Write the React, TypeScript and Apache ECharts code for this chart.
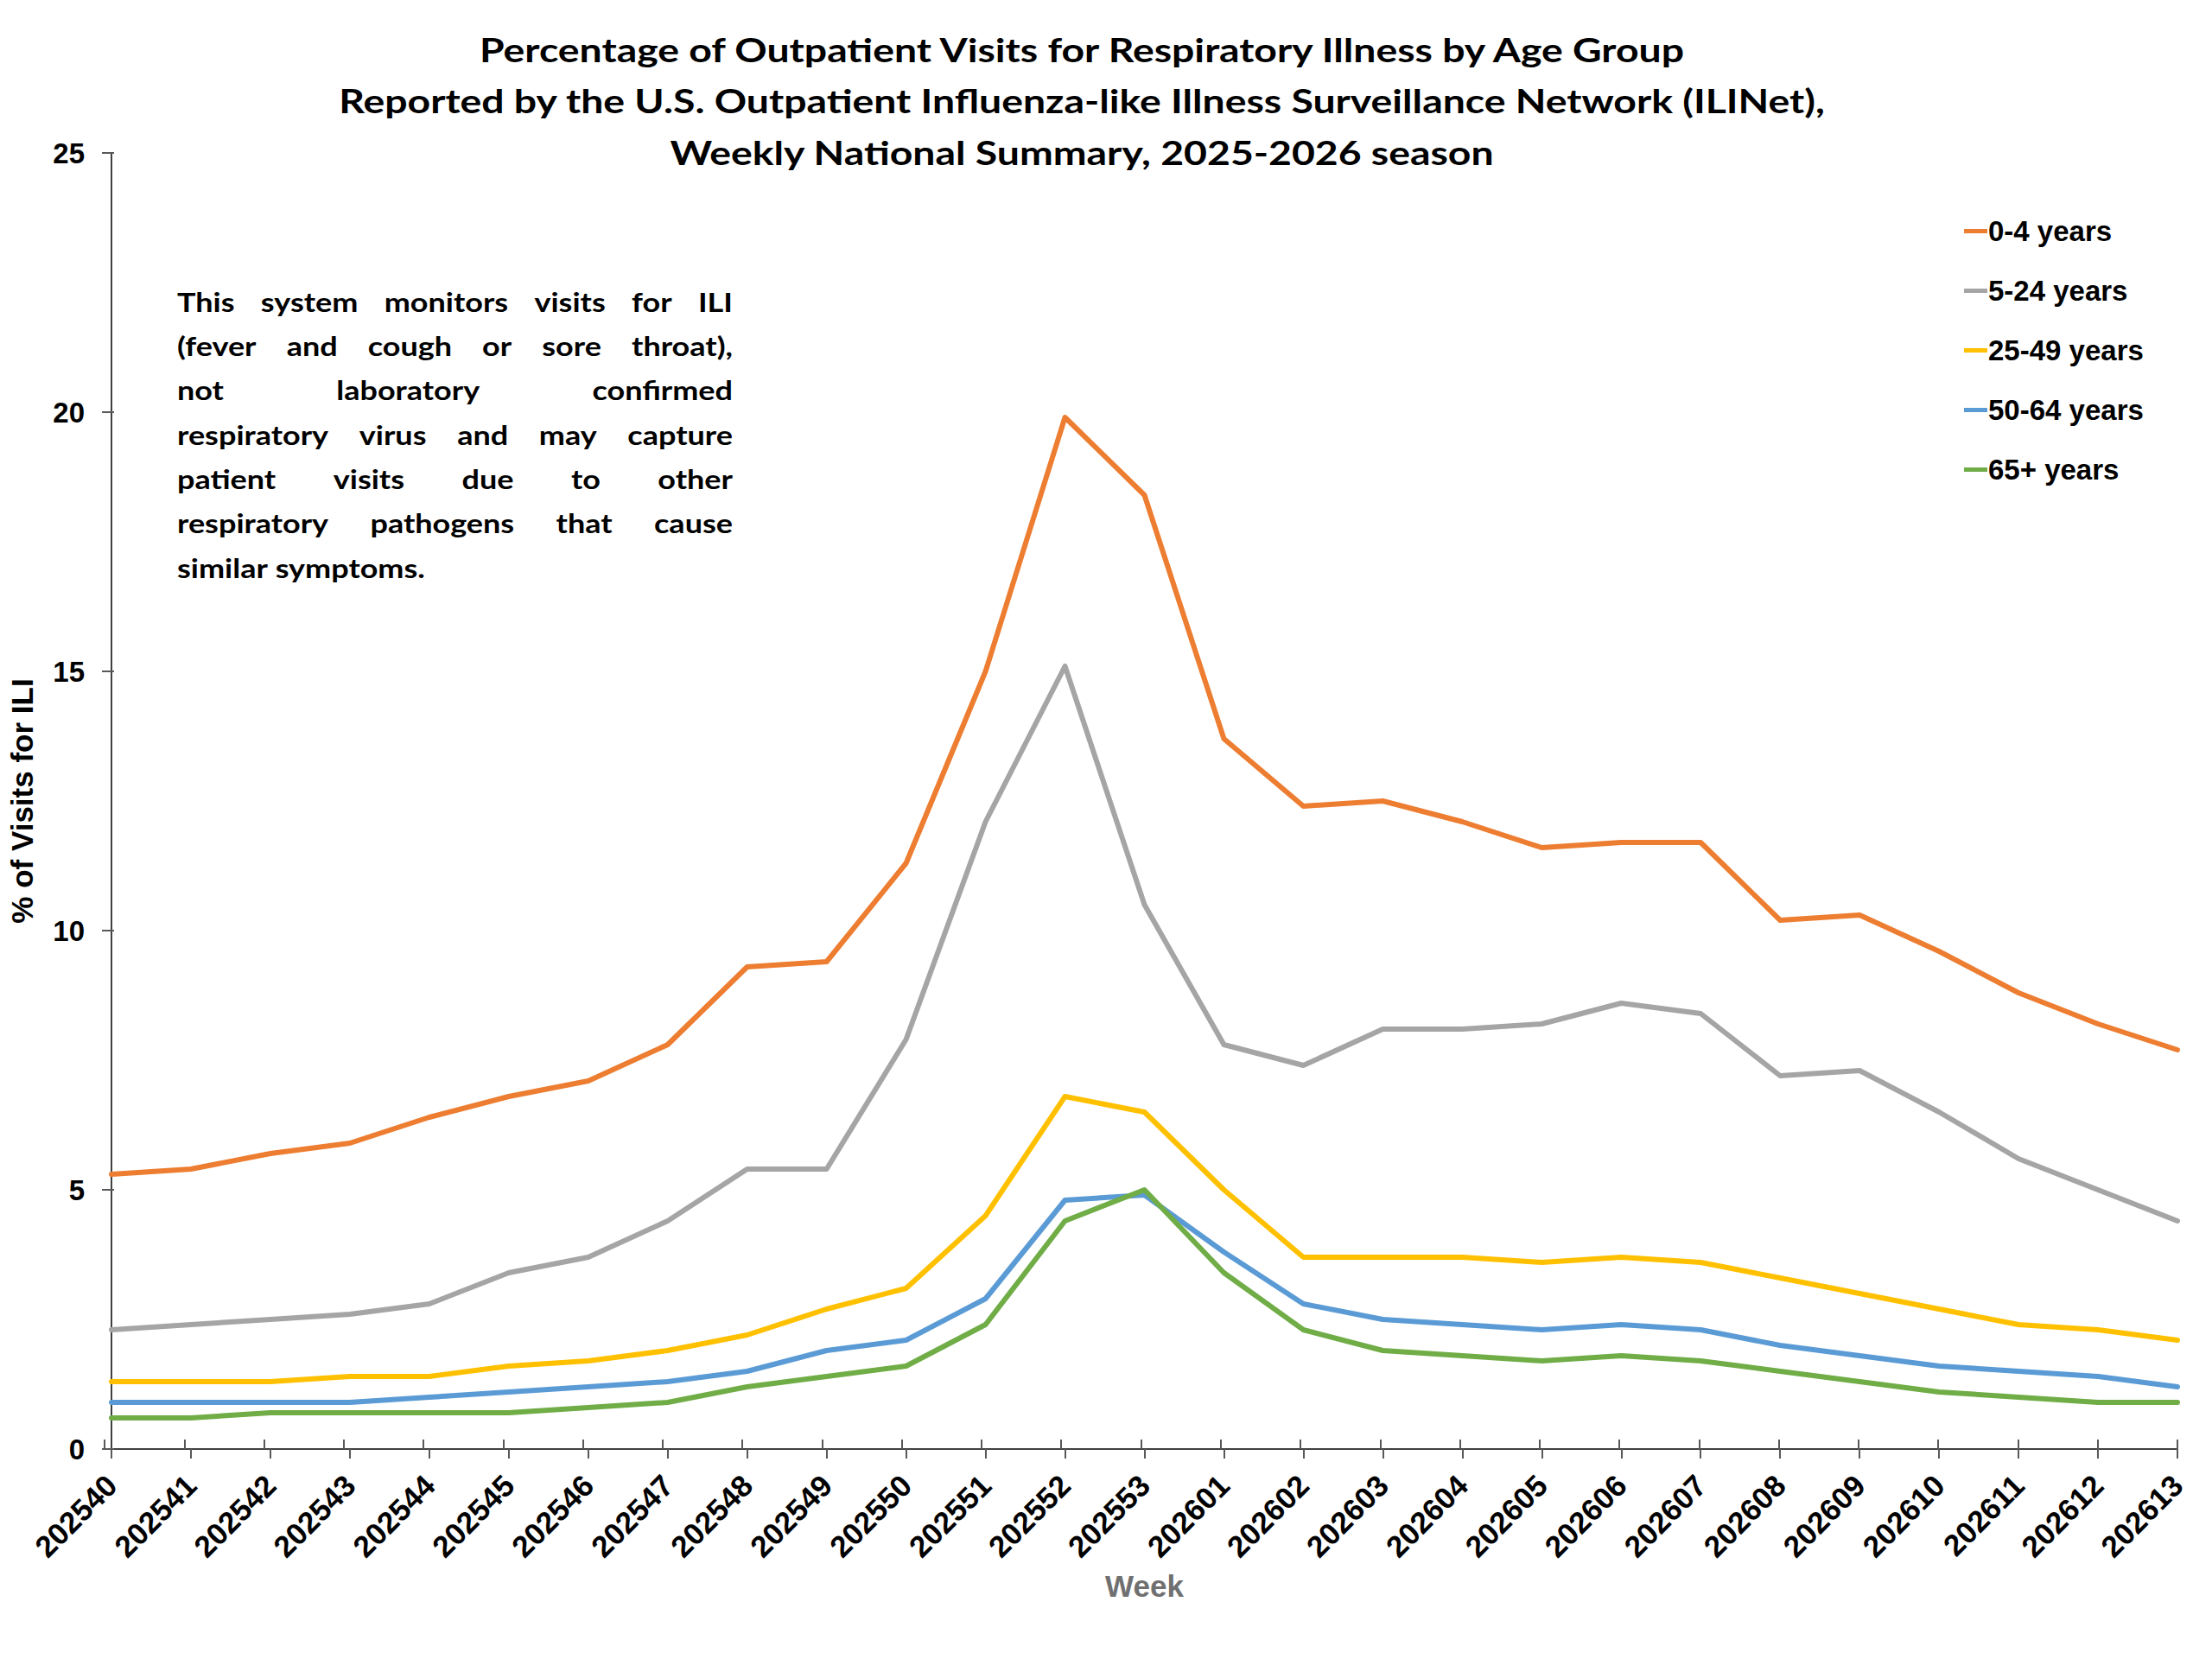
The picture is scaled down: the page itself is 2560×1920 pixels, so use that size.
import React, { useEffect, useRef } from 'react';
import * as echarts from 'echarts';

const weeks = [
  '202540', '202541', '202542', '202543', '202544', '202545', '202546', '202547', '202548',
  '202549', '202550', '202551', '202552', '202553', '202601', '202602', '202603', '202604',
  '202605', '202606', '202607', '202608', '202609', '202610', '202611', '202612', '202613',
];

const age0to4 = [5.3, 5.4, 5.7, 5.9, 6.4, 6.8, 7.1, 7.8, 9.3, 9.4, 11.3, 15.0, 19.9, 18.4, 13.7, 12.4, 12.5, 12.1, 11.6, 11.7, 11.7, 10.2, 10.3, 9.6, 8.8, 8.2, 7.7];
const age5to24 = [2.3, 2.4, 2.5, 2.6, 2.8, 3.4, 3.7, 4.4, 5.4, 5.4, 7.9, 12.1, 15.1, 10.5, 7.8, 7.4, 8.1, 8.1, 8.2, 8.6, 8.4, 7.2, 7.3, 6.5, 5.6, 5.0, 4.4];
const age25to49 = [1.3, 1.3, 1.3, 1.4, 1.4, 1.6, 1.7, 1.9, 2.2, 2.7, 3.1, 4.5, 6.8, 6.5, 5.0, 3.7, 3.7, 3.7, 3.6, 3.7, 3.6, 3.3, 3.0, 2.7, 2.4, 2.3, 2.1];
const age50to64 = [0.9, 0.9, 0.9, 0.9, 1.0, 1.1, 1.2, 1.3, 1.5, 1.9, 2.1, 2.9, 4.8, 4.9, 3.8, 2.8, 2.5, 2.4, 2.3, 2.4, 2.3, 2.0, 1.8, 1.6, 1.5, 1.4, 1.2];
const age65plus = [0.6, 0.6, 0.7, 0.7, 0.7, 0.7, 0.8, 0.9, 1.2, 1.4, 1.6, 2.4, 4.4, 5.0, 3.4, 2.3, 1.9, 1.8, 1.7, 1.8, 1.7, 1.5, 1.3, 1.1, 1.0, 0.9, 0.9];

const seriesNames = ['0-4 years', '5-24 years', '25-49 years', '50-64 years', '65+ years'];
const seriesColors = ['#ED7D31', '#A5A5A5', '#FFC000', '#5B9BD5', '#70AD47'];

const titleLines = [
  'Percentage of Outpatient Visits for Respiratory Illness by Age Group',
  'Reported by the U.S. Outpatient Influenza-like Illness Surveillance Network (ILINet),',
  'Weekly National Summary, 2025-2026 season',
];

const noteLines = [
  'This system monitors visits for ILI',
  '(fever and cough or sore throat),',
  'not laboratory confirmed',
  'respiratory virus and may capture',
  'patient visits due to other',
  'respiratory pathogens that cause',
  'similar symptoms.',
];

const ARIAL = '"Liberation Sans", Arial, sans-serif';
const CALIBRI = 'Lato, "Open Sans", sans-serif';
// the reference's Calibri reads wider than Lato, so the title/note text is stretched a bit
const TITLE_STRETCH = 1.22;
const NOTE_STRETCH = 1.2;

// lay out the note as justified text, one element per word
function noteWords(left: number, right: number, top: number, step: number, size: number) {
  const ctx = document.createElement('canvas').getContext('2d')!;
  ctx.font = `bold ${size}px Lato`;
  const out: any[] = [];
  noteLines.forEach((line, i) => {
    const words = line.split(' ');
    const y = top + i * step;
    const last = i === noteLines.length - 1;
    const widths = words.map((w) => ctx.measureText(w).width * NOTE_STRETCH);
    const total = widths.reduce((a, b) => a + b, 0);
    const gap = last || words.length < 2
      ? ctx.measureText(' ').width * NOTE_STRETCH
      : (right - left - total) / (words.length - 1);
    let x = left;
    words.forEach((w, j) => {
      out.push({
        type: 'text',
        x,
        y,
        scaleX: NOTE_STRETCH,
        style: {
          text: w,
          fill: '#000',
          fontFamily: CALIBRI,
          fontWeight: 'bold',
          fontSize: size,
          textAlign: 'left',
          align: 'left',
          textVerticalAlign: 'middle',
          verticalAlign: 'middle',
        },
      });
      x += widths[j] + gap;
    });
  });
  return out;
}

export default function App() {
  const chartRef = useRef<HTMLDivElement>(null);

  useEffect(() => {
    document.body.style.margin = '0';
    const chart = echarts.init(chartRef.current!, null, { renderer: 'svg' });

    const grid = { left: 121, right: 40, top: 177, bottom: 243, containLabel: false };
    const lineColor = '#404040';
    const tickColor = '#595959';
    const values = [age0to4, age5to24, age25to49, age50to64, age65plus];

    chart.setOption({
      animation: false,
      backgroundColor: '#fff',
      grid: [grid, grid],
      graphic: [
        ...titleLines.map((t, i) => ({
          type: 'text',
          x: 1252,
          y: 57 + i * 59.5,
          scaleX: TITLE_STRETCH,
          style: {
            text: t,
            fill: '#000',
            fontFamily: CALIBRI,
            fontWeight: 'bold',
            fontSize: 38,
            textAlign: 'center',
            align: 'center',
            textVerticalAlign: 'middle',
            verticalAlign: 'middle',
          },
        })),
        ...noteWords(205, 848, 349, 51.3, 30),
      ],
      legend: {
        orient: 'vertical',
        left: 2268,
        top: 246,
        itemWidth: 27,
        itemHeight: 12,
        itemGap: 36,
        data: seriesNames.map((n, i) => ({
          name: n,
          icon: 'path://M0,0H27V5H0Z',
          itemStyle: { color: seriesColors[i] },
        })),
        textStyle: {
          fontFamily: ARIAL,
          fontWeight: 'bold',
          fontSize: 33,
          lineHeight: 33,
          color: '#000',
          padding: [0, 0, 0, -4],
        },
      },
      xAxis: [
        {
          type: 'category',
          data: weeks,
          boundaryGap: false,
          axisLine: { show: true, lineStyle: { color: lineColor, width: 2 } },
          axisTick: { show: true, length: 11, lineStyle: { color: tickColor, width: 2 } },
          axisLabel: {
            interval: 0,
            rotate: 45,
            margin: 36,
            fontFamily: ARIAL,
            fontWeight: 'bold',
            fontSize: 35,
            color: '#000',
          },
          splitLine: { show: false },
          name: 'Week',
          nameLocation: 'middle',
          nameGap: 141,
          nameTextStyle: { fontFamily: ARIAL, fontWeight: 'bold', fontSize: 35, color: '#707070' },
        },
        {
          type: 'category',
          gridIndex: 1,
          data: weeks,
          boundaryGap: false,
          axisLine: { show: false },
          axisTick: { show: true, inside: true, length: 11, lineStyle: { color: tickColor, width: 2 } },
          axisLabel: { show: false },
          splitLine: { show: false },
        },
      ],
      yAxis: [
        {
          type: 'value',
          min: 0,
          max: 25,
          interval: 5,
          axisLine: { show: true, lineStyle: { color: lineColor, width: 2 } },
          axisTick: { show: true, length: 11, lineStyle: { color: tickColor, width: 2 } },
          axisLabel: { margin: 31, fontFamily: ARIAL, fontWeight: 'bold', fontSize: 33, color: '#000' },
          splitLine: { show: false },
          name: '% of Visits for ILI',
          nameLocation: 'middle',
          nameGap: 86,
          nameTextStyle: { fontFamily: ARIAL, fontWeight: 'bold', fontSize: 35, color: '#000' },
        },
        {
          type: 'value',
          gridIndex: 1,
          min: 0,
          max: 25,
          interval: 5,
          axisLine: { show: false },
          axisTick: { show: true, inside: true, length: 11, lineStyle: { color: tickColor, width: 2 } },
          axisLabel: { show: false },
          splitLine: { show: false },
        },
      ],
      series: seriesNames.map((n, i) => ({
        name: n,
        type: 'line',
        xAxisIndex: 0,
        yAxisIndex: 0,
        data: values[i],
        symbol: 'none',
        color: seriesColors[i],
        lineStyle: { width: 6, color: seriesColors[i], join: 'round', cap: 'round' },
      })),
    });

    return () => {
      chart.dispose();
    };
  }, []);

  return (
    <div
      ref={chartRef}
      style={{ position: 'absolute', left: 0, top: 0, width: 2560, height: 1920 }}
    />
  );
}
